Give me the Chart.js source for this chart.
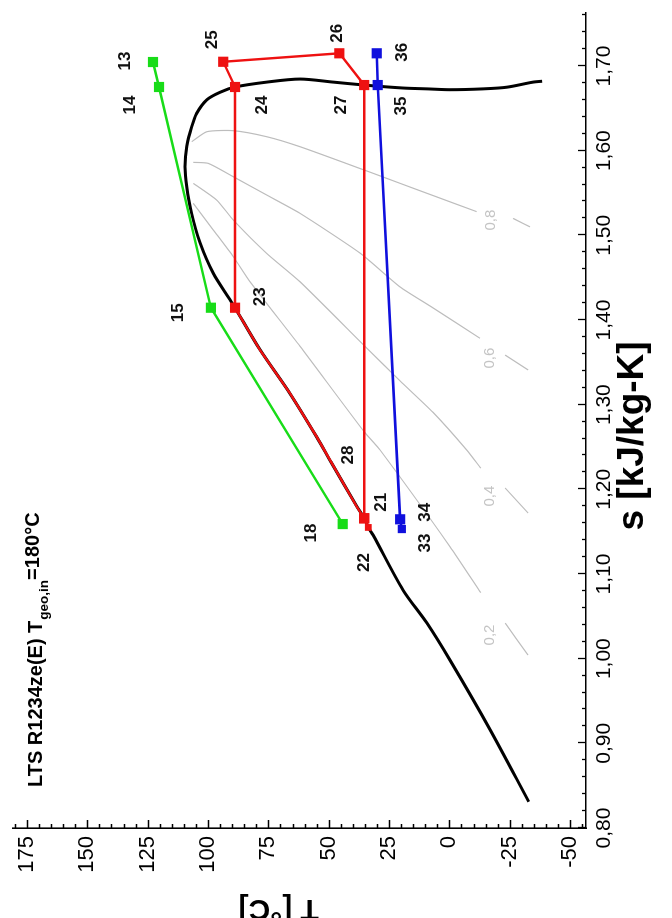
<!DOCTYPE html>
<html><head><meta charset="utf-8">
<script src="https://cdn.jsdelivr.net/npm/chart.js@4.4.1/dist/chart.umd.min.js"></script>
<style>
html,body{margin:0;padding:0;background:#fff;overflow:hidden;width:672px;height:918px;}
#wrap{position:absolute;left:0;top:0;width:940px;height:672px;transform-origin:0 0;transform:translate(0px,940px) rotate(-90deg);}
canvas{display:block}
</style></head><body>
<div id="wrap"><canvas id="c" width="940" height="672" style="width:940px;height:672px"></canvas></div>
<script>
// ---- axis ticks ----
const sTicks = [0.80,0.90,1.00,1.10,1.20,1.30,1.40,1.50,1.60,1.70];
const tTicks = [-50,-25,0,25,50,75,100,125,150,175];

// ---- saturation dome (s [kJ/kg-K], T [°C]) ----
const domeS = [0.831,0.916,0.998,1.042,1.081,1.146,1.155,1.166,1.180,1.232,1.262,1.313,1.365,1.4145,1.424,1.455,1.491,1.526,1.5575,1.581,1.605,1.628,1.644,1.660,1.669,1.6752,1.681,1.6846,1.681,1.6775,1.674,1.673,1.672,1.673,1.675,1.681,1.682];
const domeT = [-32.9,-16.9,-0.3,9.3,19.2,31.6,33.6,35.3,38.4,49.0,55.0,66.0,78.5,88.8,90.9,97.8,103.3,106.8,108.8,109.5,108.8,106.8,104.7,100.5,95.0,88.8,75.6,61.9,48.2,35.3,19.2,9.3,-0.3,-14,-23.9,-34.7,-38.4];

// ---- green (heat source) ----
const greenNames = ['13','14','15','18'];
const greenS = [1.7047,1.6752,1.4145,1.159];
const greenT = [122.8,120.3,98.8,44.2];

// ---- red (LTS cycle) ----
const redNames = ['22','21','','28','','','','23','24','25','26','27','21'];
const redS = [1.155,1.1658,1.1795,1.2323,1.2622,1.3134,1.3645,1.4145,1.6752,1.705,1.715,1.6775,1.1658];
const redT = [33.6,35.3,38.4,49.0,55.0,66.0,78.45,88.8,88.8,93.7,45.6,35.3,35.3];

// ---- blue (cooling) ----
const blueNames = ['33','34','35','36'];
const blueS = [1.1531,1.1646,1.6775,1.715];
const blueT = [19.7,20.4,29.7,30.1];

// ---- vapour quality lines ----
const q02S = [1.5378,1.5063,1.4747,1.4452,1.369,1.268,1.2464,1.1322,1.078];
const q02T = [106.1,97.8,89.5,82.6,61.9,35.3,28.7,-0.3,-13];
const q02dashS = [1.042,1.0043];
const q02dashT = [-23.1,-32.6];
const q04S = [1.5614,1.5417,1.518,1.4787,1.4452,1.369,1.328,1.291,1.2464,1.225];
const q04T = [106.1,96.4,89.5,75.7,61.9,35.0,20.4,6.8,-7.2,-13];
const q04dashS = [1.2016,1.172];
const q04dashT = [-23.1,-32.6];
const q06S = [1.5862,1.585,1.5692,1.5476,1.526,1.479,1.439,1.4165,1.3784];
const q06T = [106.1,99.9,89.5,75.7,61.9,37.0,20.4,8.0,-12.7];
const q06dashS = [1.3586,1.341];
const q06dashT = [-23.1,-32.6];
const q08S = [1.6106,1.6224,1.6236,1.6165,1.6047,1.576,1.5614,1.5468,1.528];
const q08T = [106.75,100.5,89.5,75.7,61.9,34.2,20.4,6.6,-11.3];
const q08dashS = [1.520,1.510];
const q08dashT = [-26.4,-33.4];
const qualityNames = ['0,2','0,4','0,6','0,8'];
const qualityLabelS = [1.028,1.192,1.355,1.518];
const qualityLabelT = [-16.9,-16.9,-16.9,-17.3];

// ---- styling / label placement (pixels, chart frame) ----
const labelOffsets = {
  '13':[1,-28],'14':[-18,-29],'15':[-5,-33],'18':[-9,-31],
  '25':[22,-11],'24':[-18,27],'23':[11,25],'26':[20,-2],'27':[-20,-23],
  '28':[7,17],'21':[16,17],'22':[-35,-4],
  '36':[1,26],'35':[-21,24],'34':[7,25],'33':[-14,23]
};
const FONT = "'Liberation Sans', Arial, Helvetica, sans-serif";
const GREEN = '#18dc18', RED = '#ee1111', BLUE = '#1010dd', GRAY = '#bdbdbd';
Chart.defaults.font.family = FONT;
Chart.defaults.color = '#000';

const pts = (S, T) => S.map((s, i) => ({x: s, y: T[i]}));
const BIG = 7.2, SMALL = 4.8;

const datasets = [
  {data: pts(greenS, greenT), pointNames: greenNames, borderColor: GREEN, backgroundColor: GREEN,
   borderWidth: 2.4, pointRadius: greenNames.map(() => BIG), order: 1},
  {data: pts(redS, redT), pointNames: redNames, borderColor: RED, backgroundColor: RED,
   borderWidth: 2.4, pointRadius: redNames.map(n => (!n || n === '28') ? 0 : (n === '22' ? SMALL : BIG)), order: 2},
  {data: pts(blueS, blueT), pointNames: blueNames, borderColor: BLUE, backgroundColor: BLUE,
   borderWidth: 2.6, pointRadius: blueNames.map(n => n === '33' ? 5.8 : BIG), order: 1},
  {data: pts(domeS, domeT), borderColor: '#000', borderWidth: 3, pointRadius: 0, tension: 0.3, order: 5},
];
[[q02S,q02T],[q02dashS,q02dashT],[q04S,q04T],[q04dashS,q04dashT],[q06S,q06T],[q06dashS,q06dashT],[q08S,q08T],[q08dashS,q08dashT]]
  .forEach(([S,T]) => datasets.push({data: pts(S,T), borderColor: GRAY, borderWidth: 1.2, pointRadius: 0, tension: 0.2, order: 10}));
datasets.forEach(d => { d.showLine = true; d.fill = false; d.pointStyle = 'rect'; d.pointBorderWidth = 0; if (d.tension === undefined) d.tension = 0; });

const decor = {
  id: 'decor',
  afterDraw(chart) {
    const ctx = chart.ctx, xs = chart.scales.x, ys = chart.scales.y, ca = chart.chartArea;
    ctx.save();
    // inward minor/major ticks
    ctx.strokeStyle = '#000'; ctx.lineWidth = 1.3;
    ctx.beginPath();
    for (let k = 40; k <= 88; k++) {
      const x = Math.round(xs.getPixelForValue(k / 50)) + 0.5;
      const len = (k % 5 === 0) ? 8 : 4;
      ctx.moveTo(x, ca.bottom); ctx.lineTo(x, ca.bottom - len);
    }
    for (let t = -55; t <= 180; t += 5) {
      const y = Math.round(ys.getPixelForValue(t)) + 0.5;
      const len = (t % 25 === 0) ? 8 : 4;
      ctx.moveTo(ca.left, y); ctx.lineTo(ca.left + len, y);
    }
    ctx.stroke();
    // point labels
    ctx.fillStyle = '#111'; ctx.textAlign = 'center'; ctx.textBaseline = 'middle';
    ctx.font = 'bold 17px ' + FONT;
    chart.data.datasets.forEach((d, i) => {
      if (!d.pointNames) return;
      const meta = chart.getDatasetMeta(i);
      const done = {};
      d.pointNames.forEach((n, j) => {
        if (!n || done[n]) return; done[n] = 1;
        const el = meta.data[j], off = labelOffsets[n] || [0,0];
        ctx.fillText(n, el.x + off[0], el.y + off[1]);
      });
    });
    // quality labels
    ctx.fillStyle = '#c4c4c4'; ctx.font = '15px ' + FONT;
    qualityNames.forEach((n, i) => {
      ctx.fillText(n, xs.getPixelForValue(qualityLabelS[i]), ys.getPixelForValue(qualityLabelT[i]));
    });
    // annotation title
    ctx.fillStyle = '#000'; ctx.textAlign = 'left'; ctx.textBaseline = 'alphabetic';
    let x = ca.left + 41; const base = ca.top + 29;
    ctx.font = 'bold 20px ' + FONT;
    const a = 'LTS R1234ze(E) T';
    ctx.fillText(a, x, base); x += ctx.measureText(a).width + 1;
    ctx.font = 'bold 13.5px ' + FONT;
    const b = 'geo,in';
    ctx.fillText(b, x, base + 6); x += ctx.measureText(b).width;
    ctx.font = 'bold 20px ' + FONT;
    ctx.fillText('=180°C', x, base - 3);
    ctx.restore();
  }
};

new Chart(document.getElementById('c'), {
  type: 'scatter',
  data: {datasets},
  options: {
    responsive: false, animation: false, devicePixelRatio: 1,
    layout: {padding: {top: 13, right: 13, left: 0, bottom: 0}},
    plugins: {legend: {display: false}, tooltip: {enabled: false}},
    scales: {
      x: {
        type: 'linear', min: 0.80, max: 1.7626,
        afterBuildTicks: s => { s.ticks = sTicks.map(v => ({value: v})); },
        afterFit: s => { s.height = 86; s.paddingLeft = 0; s.paddingRight = 0; },
        grid: {display: false, drawTicks: false},
        border: {display: true, color: '#000', width: 1.6},
        ticks: {padding: 6, maxRotation: 0, autoSkip: false, color: '#000',
                font: {size: 21}, callback: v => v.toFixed(2).replace('.', ',')},
        title: {display: true, text: 's [kJ/kg-K]   ', color: '#000',
                font: {size: 37, weight: 'bold'}, padding: {top: 0, bottom: 17}}
      },
      y: {
        type: 'linear', min: -56.6, max: 180.8,
        afterBuildTicks: s => { s.ticks = tTicks.map(v => ({value: v})); },
        afterFit: s => { s.width = 112; s.paddingTop = 0; s.paddingBottom = 0; },
        grid: {display: false, drawTicks: false},
        border: {display: true, color: '#000', width: 1.6},
        ticks: {padding: 8, autoSkip: false, color: '#000', font: {size: 22},
                callback: v => String(v)},
        title: {display: true, text: '     T [°C]', color: '#000',
                font: {size: 30, weight: 'bold'}, padding: {top: 14, bottom: 0}}
      }
    }
  },
  plugins: [decor]
});
</script>
</body></html>
